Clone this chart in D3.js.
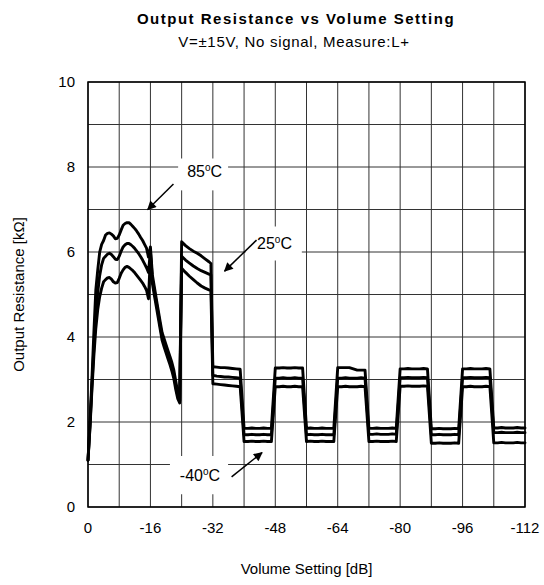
<!DOCTYPE html>
<html><head><meta charset="utf-8">
<script src="https://cdn.jsdelivr.net/npm/d3@7"></script>
<style>html,body{margin:0;padding:0;background:#fff;}svg{display:block;font-family:"Liberation Sans",Arial,sans-serif;}</style>
</head><body>
<script>
const titleText = "Output Resistance vs Volume Setting";
const subtitleText = "V=±15V, No signal, Measure:L+";
const xTitle = "Volume Setting [dB]";
const yTitle = "Output Resistance [kΩ]";
const xTicks = [0, -16, -32, -48, -64, -80, -96, -112];
const yTicks = [0, 2, 4, 6, 8, 10];

const volumeDb = [0,-0.5,-1,-1.5,-2,-2.5,-3,-3.5,-4,-4.5,-5,-5.5,-6,-6.5,-7,-7.5,-8,-8.5,-9,-9.5,-10,-10.5,-11,-11.5,-12,-12.5,-13,-13.5,-14,-14.5,-15,-15.5,
-16,-16.5,-17,-17.5,-18,-18.5,-19,-19.5,-20,-20.5,-21,-21.5,-22,-22.5,-23,-23.5,
-24,-25,-26,-27,-28,-29,-30,-31,-31.5,
-32,-33,-34,-35,-36,-37,-38,-39,
-40,-41,-42,-43,-44,-45,-46,-47,
-48,-49,-50,-51,-52,-53,-54,-55,
-56,-57,-58,-59,-60,-61,-62,-63,
-64,-65,-66,-67,-68,-69,-70,-71,
-72,-73,-74,-75,-76,-77,-78,-79,
-80,-81,-82,-83,-84,-85,-86,-87,
-88,-89,-90,-91,-92,-93,-94,-95,
-96,-97,-98,-99,-100,-101,-102,-103,
-104,-105,-106,-107,-108,-109,-110,-111,-112];

const r85C = [1.1,2.0,3.0,4.1,5.1,5.58,6.0,6.18,6.27,6.4,6.44,6.45,6.42,6.38,6.31,6.32,6.4,6.52,6.63,6.67,6.69,6.69,6.65,6.6,6.55,6.49,6.42,6.34,6.27,6.18,6.09,5.88,
6.12,5.46,5.18,4.9,4.63,4.36,4.1,3.96,3.82,3.68,3.54,3.4,3.22,2.96,2.7,2.5,
6.24,6.15,6.08,6.02,5.97,5.91,5.84,5.77,5.73,
3.30,3.29,3.28,3.28,3.27,3.26,3.25,3.24,
1.85,1.85,1.86,1.85,1.85,1.86,1.85,1.85,
3.27,3.27,3.28,3.27,3.27,3.28,3.27,3.27,
1.85,1.86,1.85,1.85,1.86,1.85,1.85,1.85,
3.28,3.28,3.28,3.28,3.25,3.22,3.22,3.22,
1.85,1.85,1.86,1.85,1.85,1.85,1.86,1.85,
3.25,3.25,3.26,3.25,3.25,3.25,3.26,3.25,
1.84,1.84,1.85,1.84,1.84,1.84,1.85,1.84,
3.25,3.25,3.26,3.25,3.25,3.25,3.26,3.25,
1.86,1.86,1.87,1.86,1.86,1.86,1.87,1.86,1.86];

const r25C = [1.1,1.9,2.85,3.75,4.5,5.05,5.45,5.7,5.85,5.9,5.95,5.97,5.94,5.89,5.83,5.82,5.9,6.02,6.12,6.17,6.2,6.2,6.17,6.13,6.08,6.02,5.96,5.89,5.81,5.72,5.63,5.52,
6.02,5.36,5.09,4.82,4.55,4.27,4.0,3.86,3.72,3.58,3.44,3.3,3.12,2.85,2.62,2.48,
5.9,5.81,5.74,5.67,5.61,5.56,5.52,5.48,5.46,
3.10,3.08,3.07,3.06,3.06,3.05,3.04,3.03,
1.70,1.70,1.71,1.70,1.70,1.71,1.70,1.70,
3.03,3.03,3.04,3.03,3.03,3.04,3.03,3.03,
1.70,1.71,1.70,1.70,1.71,1.70,1.70,1.70,
3.03,3.03,3.04,3.03,3.03,3.03,3.04,3.03,
1.71,1.71,1.72,1.71,1.71,1.71,1.72,1.71,
3.04,3.04,3.05,3.04,3.04,3.04,3.05,3.04,
1.70,1.70,1.71,1.70,1.70,1.70,1.71,1.70,
3.04,3.04,3.05,3.04,3.04,3.04,3.05,3.04,
1.75,1.75,1.76,1.75,1.75,1.75,1.76,1.75,1.75];

const rMinus40C = [1.1,1.85,2.75,3.55,4.2,4.65,4.95,5.15,5.3,5.35,5.39,5.4,5.36,5.3,5.27,5.28,5.38,5.5,5.58,5.64,5.66,5.64,5.6,5.56,5.51,5.45,5.39,5.33,5.27,5.19,5.1,4.9,
5.92,5.26,4.98,4.72,4.45,4.18,3.92,3.77,3.63,3.49,3.35,3.2,3.02,2.76,2.55,2.45,
5.62,5.52,5.43,5.35,5.27,5.2,5.15,5.11,5.1,
2.90,2.89,2.88,2.87,2.86,2.85,2.84,2.83,
1.54,1.54,1.55,1.54,1.54,1.55,1.54,1.54,
2.83,2.83,2.84,2.83,2.83,2.84,2.83,2.83,
1.54,1.55,1.54,1.54,1.55,1.54,1.54,1.54,
2.83,2.83,2.84,2.83,2.83,2.83,2.84,2.83,
1.54,1.54,1.55,1.54,1.54,1.54,1.55,1.54,
2.84,2.84,2.85,2.84,2.84,2.84,2.85,2.84,
1.50,1.50,1.51,1.50,1.50,1.50,1.51,1.50,
2.83,2.83,2.84,2.83,2.83,2.83,2.84,2.83,
1.51,1.51,1.52,1.51,1.51,1.51,1.52,1.51,1.51];

const seriesNames = ["85ºC", "25ºC", "-40ºC"];
const seriesValues = [r85C, r25C, rMinus40C];

// annotation labels (data units) and arrows
const labelNames = ["85", "25", "-40"];
const labelDb = [-29.9, -47.8, -28.7];
const labelR = [7.9, 6.2, 0.75];
const boxDb = [[-23.1, -35.9], [-40.4, -54.8], [-21.0, -35.9]];
const boxR = [[7.45, 8.2], [5.8, 6.6], [0.3, 1.2]];
const arrowFrom = [[-21.9, 7.6], [-43.2, 6.28], [-36.8, 0.71]];
const arrowTo = [[-15.3, 7.0], [-35.0, 5.55], [-44.6, 1.28]];

const W = 544, H = 585;
const m = {left: 88, right: 19, top: 82, bottom: 78};
const svg = d3.select("body").append("svg").attr("width", W).attr("height", H);

const x = d3.scaleLinear().domain([0, -112]).range([m.left, W - m.right]);
const y = d3.scaleLinear().domain([0, 10]).range([H - m.bottom, m.top]);

// gridlines
const gx = d3.range(0, -113, -8);
const gy = d3.range(0, 10.01, 1);
svg.append("g").selectAll("line").data(gx).join("line")
  .attr("x1", d => x(d)).attr("x2", d => x(d)).attr("y1", y(0)).attr("y2", y(10))
  .attr("stroke", "#333").attr("stroke-width", 1);
svg.append("g").selectAll("line").data(gy).join("line")
  .attr("y1", d => y(d)).attr("y2", d => y(d)).attr("x1", x(0)).attr("x2", x(-112))
  .attr("stroke", "#333").attr("stroke-width", 1);

// white label boxes
svg.append("g").selectAll("rect").data(boxDb).join("rect")
  .attr("x", d => x(d[0])).attr("width", d => x(d[1]) - x(d[0]))
  .attr("y", (d, i) => y(boxR[i][1])).attr("height", (d, i) => y(boxR[i][0]) - y(boxR[i][1]))
  .attr("fill", "#fff");

// curves
const line = d3.line().x((d, i) => x(volumeDb[i])).y(d => y(d));
svg.append("g").selectAll("path").data(seriesValues).join("path")
  .attr("d", d => line(d)).attr("fill", "none").attr("stroke", "#000")
  .attr("stroke-width", 2.9).attr("stroke-linejoin", "round").attr("stroke-linecap", "round");

// frame
svg.append("rect").attr("x", x(0)).attr("y", y(10)).attr("width", x(-112) - x(0)).attr("height", y(0) - y(10))
  .attr("fill", "none").attr("stroke", "#000").attr("stroke-width", 1.5);

// tick labels
svg.append("g").selectAll("text").data(yTicks).join("text")
  .attr("x", x(0) - 13).attr("y", d => y(d)).attr("dy", "0.36em")
  .attr("text-anchor", "end").attr("font-size", 15).text(d => d);
svg.append("g").selectAll("text").data(xTicks).join("text")
  .attr("x", d => x(d)).attr("y", y(0) + 26)
  .attr("text-anchor", "middle").attr("font-size", 15).text(d => d === 0 ? "0" : "-" + Math.abs(d));

// titles
svg.append("text").attr("x", 296).attr("y", 24).attr("text-anchor", "middle")
  .attr("font-size", 15).attr("font-weight", "bold").attr("letter-spacing", "1.5px").text(titleText);
svg.append("text").attr("x", 294).attr("y", 47).attr("text-anchor", "middle")
  .attr("font-size", 15).attr("letter-spacing", "0.7px").text(subtitleText);
svg.append("text").attr("x", (x(0) + x(-112)) / 2).attr("y", 574).attr("text-anchor", "middle")
  .attr("font-size", 15).text(xTitle);
svg.append("text").attr("transform", `translate(24,${(y(0) + y(10)) / 2}) rotate(-90)`)
  .attr("text-anchor", "middle").attr("font-size", 15).text(yTitle);

// annotation labels
const lbl = svg.append("g").selectAll("text").data(labelNames).join("text")
  .attr("x", (d, i) => x(labelDb[i])).attr("y", (d, i) => y(labelR[i])).attr("dy", "0.36em")
  .attr("text-anchor", "middle").attr("font-size", 16);
lbl.append("tspan").text(d => d);
lbl.append("tspan").attr("font-size", 10).attr("dy", "-0.6em").text("o");
lbl.append("tspan").attr("dy", "0.38em").text("C");

// arrows
svg.append("defs").append("marker").attr("id", "ah").attr("viewBox", "0 0 10 10")
  .attr("refX", 9).attr("refY", 5).attr("markerWidth", 12).attr("markerHeight", 9)
  .attr("markerUnits", "userSpaceOnUse").attr("orient", "auto")
  .append("path").attr("d", "M0,0 L10,5 L0,10 Z").attr("fill", "#000");
svg.append("g").selectAll("line").data(arrowFrom).join("line")
  .attr("x1", d => x(d[0])).attr("y1", d => y(d[1]))
  .attr("x2", (d, i) => x(arrowTo[i][0])).attr("y2", (d, i) => y(arrowTo[i][1]))
  .attr("stroke", "#000").attr("stroke-width", 1.5).attr("marker-end", "url(#ah)");
</script>
</body></html>
